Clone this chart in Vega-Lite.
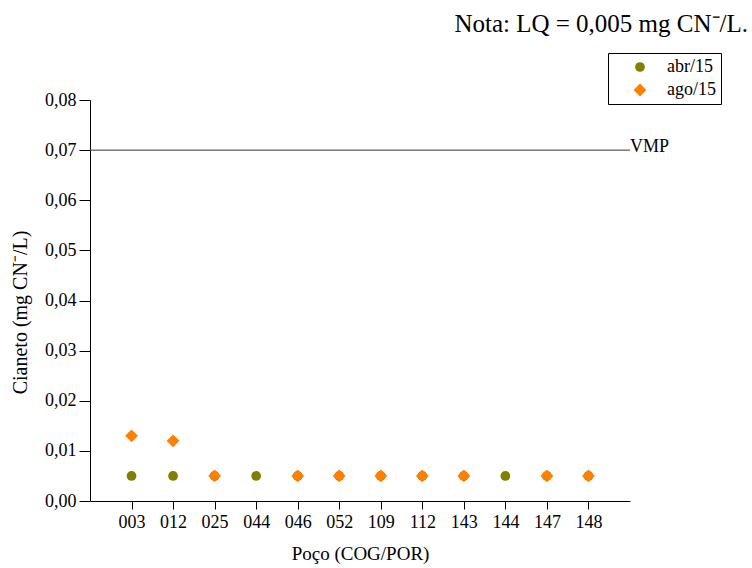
{
  "$schema": "https://vega.github.io/schema/vega-lite/v6.json",
  "width": 540,
  "height": 401,
  "autosize": {"type": "none"},
  "padding": {"left": 90, "top": 100, "right": 122, "bottom": 67},
  "background": "white",
  "config": {
    "font": "Liberation Serif",
    "view": {"stroke": null},
    "axis": {
      "domainColor": "black",
      "domainWidth": 1,
      "tickColor": "black",
      "labelColor": "black",
      "titleColor": "black",
      "labelFontSize": 18,
      "titleFontSize": 19,
      "titleFontWeight": "normal",
      "grid": false
    }
  },
  "title": {
    "text": "Nota: LQ = 0,005 mg CN⁻/L.",
    "anchor": "end",
    "frame": "group",
    "dx": 118,
    "offset": 16,
    "fontSize": 25,
    "fontWeight": "normal",
    "font": "Liberation Serif",
    "color": "black"
  },
  "datasets": {
    "vmp": [{"limite": 0.07, "rotulo": "VMP"}],
    "medidas": [
      {"poco": "003", "campanha": "abr/15", "valor": 0.005},
      {"poco": "012", "campanha": "abr/15", "valor": 0.005},
      {"poco": "025", "campanha": "abr/15", "valor": 0.005},
      {"poco": "044", "campanha": "abr/15", "valor": 0.005},
      {"poco": "046", "campanha": "abr/15", "valor": 0.005},
      {"poco": "052", "campanha": "abr/15", "valor": 0.005},
      {"poco": "109", "campanha": "abr/15", "valor": 0.005},
      {"poco": "112", "campanha": "abr/15", "valor": 0.005},
      {"poco": "143", "campanha": "abr/15", "valor": 0.005},
      {"poco": "144", "campanha": "abr/15", "valor": 0.005},
      {"poco": "147", "campanha": "abr/15", "valor": 0.005},
      {"poco": "148", "campanha": "abr/15", "valor": 0.005},
      {"poco": "003", "campanha": "ago/15", "valor": 0.013},
      {"poco": "012", "campanha": "ago/15", "valor": 0.012},
      {"poco": "025", "campanha": "ago/15", "valor": 0.005},
      {"poco": "046", "campanha": "ago/15", "valor": 0.005},
      {"poco": "052", "campanha": "ago/15", "valor": 0.005},
      {"poco": "109", "campanha": "ago/15", "valor": 0.005},
      {"poco": "112", "campanha": "ago/15", "valor": 0.005},
      {"poco": "143", "campanha": "ago/15", "valor": 0.005},
      {"poco": "147", "campanha": "ago/15", "valor": 0.005},
      {"poco": "148", "campanha": "ago/15", "valor": 0.005}
    ]
  },
  "layer": [
    {
      "data": {"name": "medidas"},
      "mark": {"type": "point", "filled": true, "opacity": 1, "strokeWidth": 0},
      "encoding": {
        "x": {
          "field": "poco",
          "type": "nominal",
          "sort": null,
          "scale": {"type": "point", "padding": 1},
          "axis": {
            "title": "Poço (COG/POR)",
            "labelFont": "Liberation Serif",
            "titleFont": "Liberation Serif",
            "labelAngle": 0,
            "tickSize": 8,
            "labelPadding": 4,
            "titlePadding": 13
          }
        },
        "y": {
          "field": "valor",
          "type": "quantitative",
          "scale": {"domain": [0, 0.08], "nice": false, "zero": true},
          "axis": {
            "title": "Cianeto (mg CN⁻/L)",
            "labelFont": "Liberation Serif",
            "titleFont": "Liberation Serif",
            "titleFontSize": 20,
            "titleY": 212,
            "values": [0, 0.005, 0.01, 0.015, 0.02, 0.025, 0.03, 0.035, 0.04, 0.045, 0.05, 0.055, 0.06, 0.065, 0.07, 0.075, 0.08],
            "labelExpr": "round(datum.value*200) % 2 === 0 ? replace(format(datum.value, '.2f'), '.', ',') : ''",
            "tickSize": {"condition": {"test": "round(datum.value*200) % 2 === 0", "value": 11}, "value": 4},
            "labelPadding": 3,
            "titlePadding": 14
          }
        },
        "color": {
          "field": "campanha",
          "type": "nominal",
          "scale": {"domain": ["abr/15", "ago/15"], "range": ["#808000", "#ff8000"]},
          "legend": {
            "title": null,
            "orient": "none",
            "legendX": 518,
            "legendY": -47,
            "strokeColor": "black",
            "fillColor": "white",
            "padding": 5,
            "labelFont": "Liberation Serif",
            "labelFontSize": 18,
            "labelColor": "black",
            "symbolOffset": 18,
            "labelOffset": 18,
            "rowPadding": 5,
            "cornerRadius": 0
          }
        },
        "shape": {
          "field": "campanha",
          "type": "nominal",
          "scale": {"domain": ["abr/15", "ago/15"], "range": ["circle", "diamond"]}
        },
        "size": {
          "field": "campanha",
          "type": "nominal",
          "scale": {"domain": ["abr/15", "ago/15"], "range": [95, 165]}
        }
      }
    },
    {
      "data": {"name": "vmp"},
      "mark": {"type": "rule", "color": "#333333", "strokeWidth": 1},
      "encoding": {
        "y": {"field": "limite", "type": "quantitative"}
      }
    },
    {
      "data": {"name": "vmp"},
      "mark": {"type": "text", "align": "left", "baseline": "middle", "dx": 0, "dy": -3, "fontSize": 18, "font": "Liberation Serif", "color": "black"},
      "encoding": {
        "y": {"field": "limite", "type": "quantitative"},
        "x": {"value": "width"},
        "text": {"field": "rotulo"}
      }
    }
  ]
}
